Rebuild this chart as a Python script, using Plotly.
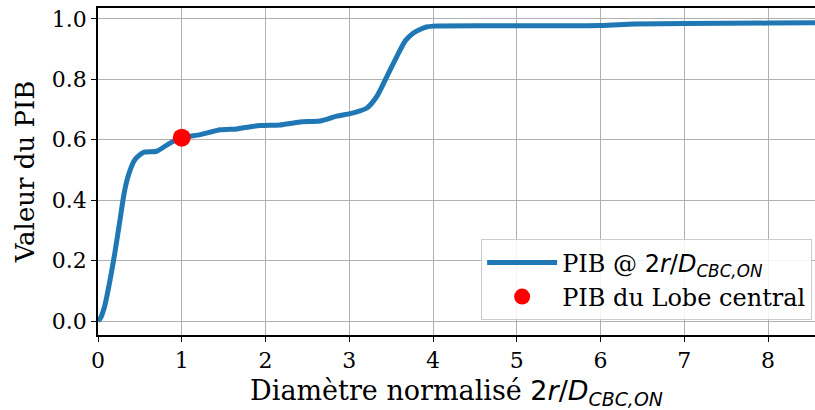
import plotly.graph_objects as go

# diametre normalise 2r/D et valeur du PIB
diam = [0, 0.03, 0.08, 0.14, 0.2, 0.26, 0.31, 0.36, 0.44, 0.54, 0.7, 0.86, 1.0,
        1.22, 1.46, 1.66, 1.93, 2.17, 2.41, 2.65, 2.85, 3.05, 3.21, 3.33, 3.45,
        3.57, 3.67, 3.77, 3.85, 3.92, 4.0, 5.0, 6.0, 6.4, 7.0, 8.0, 8.6]
pib = [0, 0.01, 0.05, 0.13, 0.224, 0.33, 0.42, 0.48, 0.534, 0.558, 0.562, 0.589, 0.607,
       0.617, 0.633, 0.636, 0.647, 0.649, 0.659, 0.662, 0.678, 0.689, 0.705, 0.744, 0.81,
       0.877, 0.928, 0.954, 0.966, 0.973, 0.976, 0.977, 0.978, 0.983, 0.985, 0.986, 0.987]

lobe_x = [1.0]
lobe_y = [0.607]

math = 'font-family:DejaVu Sans'
lbl_math = ('<span style="%s">2<i>r</i>/<i>D</i><sub><i>CBC,ON</i></sub></span>' % math)

fig = go.Figure()

fig.add_trace(go.Scatter(
    x=diam, y=pib, mode='lines',
    line=dict(color='#1f77b4', width=5, shape='spline', smoothing=0.6),
    name='PIB @ ' + lbl_math
))

fig.add_trace(go.Scatter(
    x=lobe_x, y=lobe_y, mode='markers',
    marker=dict(color='red', size=18),
    name='PIB du Lobe central'
))

axis_style = dict(
    showline=True, linecolor='black', linewidth=1.5, mirror=True,
    showgrid=True, gridcolor='#b0b0b0', gridwidth=1,
    ticks='outside', ticklen=5, tickcolor='black',
    zeroline=False, automargin=False,
    tickfont=dict(size=22, color='black'),
)

fig.update_xaxes(range=[0, 8.56], dtick=1, **axis_style,
                 title=dict(text='Diamètre normalisé ' + lbl_math, font=dict(size=27), standoff=9))
fig.update_yaxes(range=[-0.046, 1.036], dtick=0.2, tickformat='.1f', **axis_style,
                 title=dict(text='Valeur du PIB', font=dict(size=26), standoff=10))

fig.update_layout(
    width=815, height=410,
    margin=dict(l=98, r=0, t=8, b=75),
    paper_bgcolor='white', plot_bgcolor='white',
    font=dict(family='DejaVu Serif', color='black'),
    legend=dict(x=0.996, y=0.045, xanchor='right', yanchor='bottom',
                bgcolor='rgba(255,255,255,0.85)', bordercolor='#cccccc', borderwidth=1,
                font=dict(size=24), itemwidth=70, tracegroupgap=0),
)

# pas de marge autour du graphique dans la page
fig.write_html("out.html", config={'displayModeBar': False},
               post_script="document.body.style.margin='0';")
